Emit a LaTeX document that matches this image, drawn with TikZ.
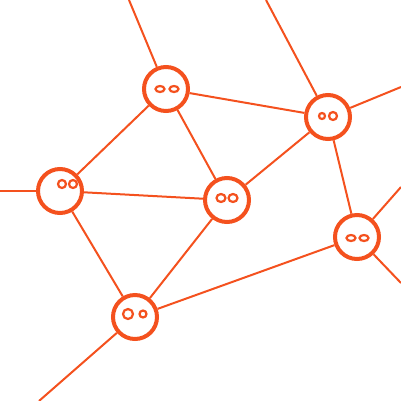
\documentclass[tikz,border=0pt]{standalone}
\definecolor{ember}{HTML}{F4511E}
\usetikzlibrary{calc}
\tikzset{
  buddy/.style={circle,draw=ember,line width=4pt,fill=white,minimum size=44pt,inner sep=0pt},
  link/.style={ember,line width=2pt},
  eye/.style={ember,line width=2.2pt}
}

\begin{document}
\begin{tikzpicture}[x=1pt,y=-1pt]
      \useasboundingbox (0,0) rectangle (401,400);
      % loose ends at the border
      \coordinate (tA) at (129,0);
      \coordinate (tD) at (266,0);
      \coordinate (lB) at (0,191);
      \coordinate (rD) at (401,87);
      \coordinate (rE1) at (401,187);
      \coordinate (rE2) at (401,283);
      \coordinate (bF) at (39,401);
      % the nodes
      \node[buddy] (a) at (166,89) {};
      \node[buddy] (b) at (60,191) {};
      \node[buddy] (c) at (227,200) {};
      \node[buddy] (d) at (328,117) {};
      \node[buddy] (e) at (357,237) {};
      \node[buddy] (f) at (135,317) {};
      % links
      \draw[link] (tA) -- (a);
      \draw[link] (tD) -- (d);
      \draw[link] (lB) -- (b);
      \draw[link] (d) -- (rD);
      \draw[link] (e) -- (rE1);
      \draw[link] (e) -- (rE2);
      \draw[link] (f) -- (bF);
      \draw[link] (a) -- (b);
      \draw[link] (a) -- (c);
      \draw[link] (a) -- (d);
      \draw[link] (b) -- (c);
      \draw[link] (b) -- (f);
      \draw[link] (c) -- (d);
      \draw[link] (c) -- (f);
      \draw[link] (d) -- (e);
      \draw[link] (e) -- (f);
      % eyes
      \draw[eye] ($(a)+(-6,0)$) ellipse (4.5 and 3);
      \draw[eye] ($(a)+(8,0)$) ellipse (4.5 and 3);
      \draw[eye] ($(b)+(2,-7)$) circle (4);
      \draw[eye] ($(b)+(13,-7)$) circle (4);
      \draw[eye] ($(c)+(-6,-2)$) ellipse (4.5 and 4);
      \draw[eye] ($(c)+(6,-2)$) ellipse (4.5 and 4);
      \draw[eye] ($(d)+(-6,-1)$) circle (3);
      \draw[eye] ($(d)+(5,-1)$) circle (4);
      \draw[eye] ($(e)+(-6,1)$) ellipse (4.5 and 3);
      \draw[eye] ($(e)+(7,1)$) ellipse (4.5 and 3);
      \draw[eye] ($(f)+(-7,-3)$) circle (5);
      \draw[eye] ($(f)+(8,-3)$) circle (3.5);
    \end{tikzpicture}
\end{document}
